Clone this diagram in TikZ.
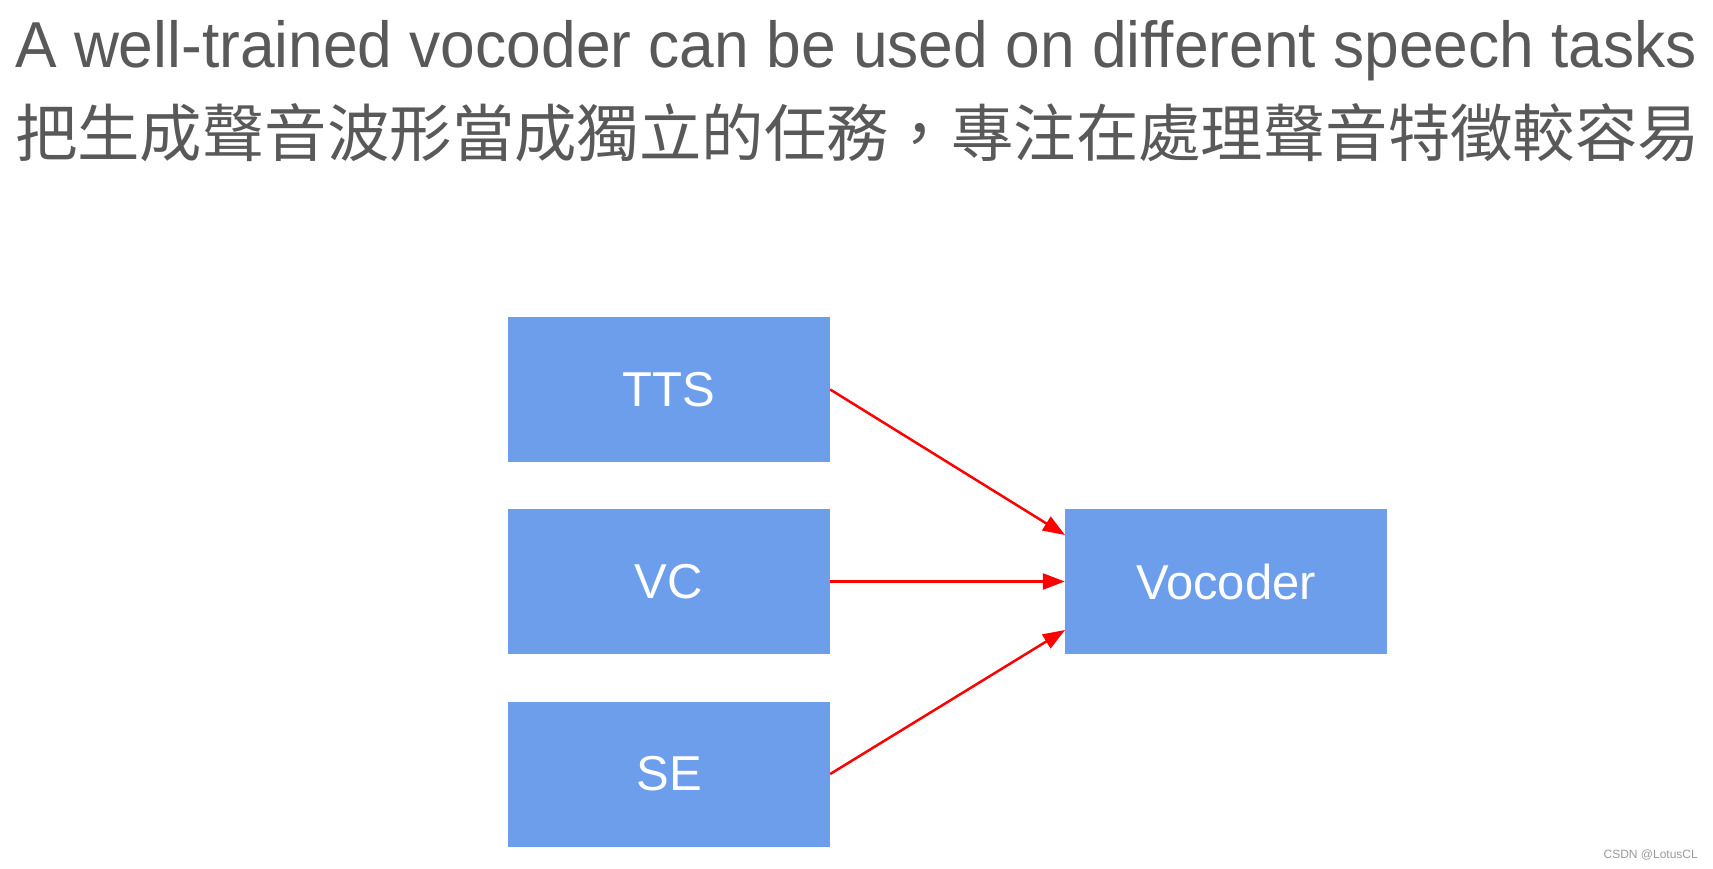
\documentclass[tikz,border=0pt]{standalone}
\usepackage{fontspec}
\usepackage{graphicx}
\setmainfont{Liberation Sans}
\newfontfamily\cjk{Noto Sans CJK TC}
\usetikzlibrary{arrows.meta}
\definecolor{boxblue}{HTML}{6D9EEB}
\definecolor{titlegray}{HTML}{595959}
\definecolor{markgray}{HTML}{9A9A9A}
\tikzset{
  blockbox/.style={fill=boxblue, draw=none, minimum width=322pt, minimum height=145pt, inner sep=0pt, text=white, font=\fontsize{49}{52}\selectfont},
  flow/.style={draw=red, line width=2.5pt, -{Triangle[length=22pt,width=16pt]}}
}
\begin{document}
\begin{tikzpicture}[x=1pt,y=-1pt]
\useasboundingbox (0,0) rectangle (1713,869);
\node[anchor=base west, inner sep=0pt, text=titlegray, font=\fontsize{65}{70}\selectfont] (t1) at (15,68) {\resizebox{1682pt}{\height}{A well-trained vocoder can be used on different speech tasks}};
\node[anchor=base west, inner sep=0pt, text=titlegray, font=\cjk\fontsize{62.4}{70}\selectfont] (t2) at (15,157) {把生成聲音波形當成獨立的任務，專注在處理聲音特徵較容易};
\node[blockbox] (tts) at (669,389.5) {TTS};
\node[blockbox] (vc) at (669,581.5) {VC};
\node[blockbox] (se) at (669,774) {SE};
\node[blockbox] (voc) at (1226,581.5) {Vocoder};
\coordinate (tin) at (1065,535);
\coordinate (sin) at (1065,630);
\draw[flow] (tts.east) -- (tin);
\draw[flow] (vc.east) -- (voc.west);
\draw[flow] (se.east) -- (sin);
\node[anchor=base east, inner sep=0pt, text=markgray, font=\fontsize{12}{14}\selectfont] (wm) at (1698,858) {CSDN @LotusCL};
\end{tikzpicture}
\end{document}
